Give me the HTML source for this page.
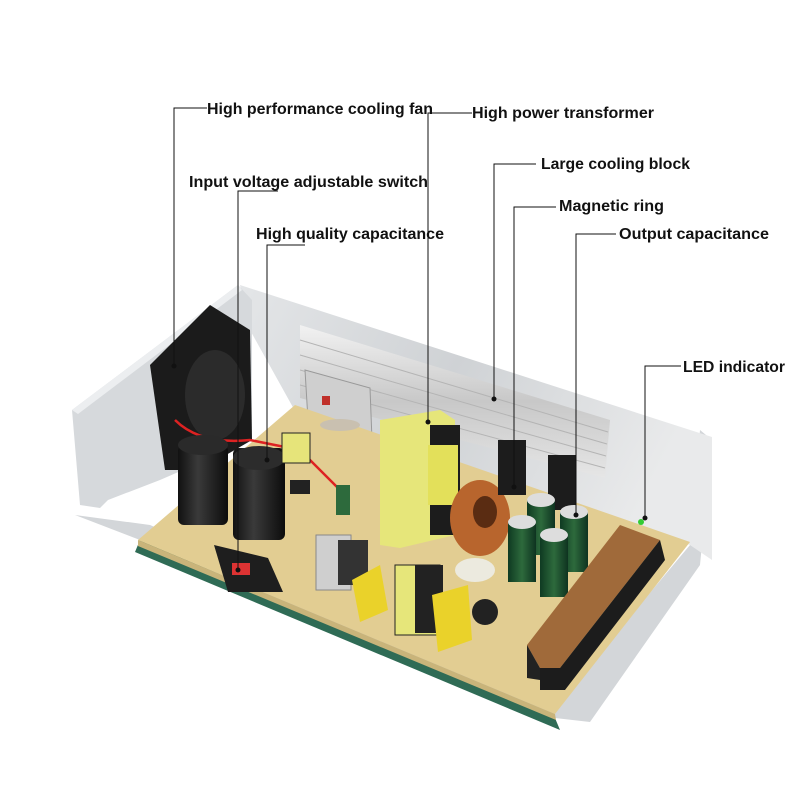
<!DOCTYPE html>
<html><head><meta charset="utf-8"><style>
html,body{margin:0;padding:0;background:#fff;}
svg{display:block}
text{font-family:"Liberation Sans",sans-serif;font-weight:bold;font-size:16px;fill:#111}
</style></head><body>
<svg width="800" height="800" viewBox="0 0 800 800" xmlns="http://www.w3.org/2000/svg">
<defs>
<linearGradient id="back" x1="0" y1="0" x2="1" y2="0.3">
<stop offset="0" stop-color="#e4e6e8"/><stop offset="0.5" stop-color="#cfd2d5"/><stop offset="1" stop-color="#e9eaeb"/></linearGradient>
<linearGradient id="fins" x1="0" y1="0" x2="0" y2="1">
<stop offset="0" stop-color="#f2f2f2"/><stop offset="0.5" stop-color="#c8c8c8"/><stop offset="1" stop-color="#e6e6e6"/></linearGradient>
<linearGradient id="cap" x1="0" y1="0" x2="1" y2="0">
<stop offset="0" stop-color="#111"/><stop offset="0.4" stop-color="#3a3a3a"/><stop offset="1" stop-color="#0c0c0c"/></linearGradient>
<linearGradient id="gcap" x1="0" y1="0" x2="1" y2="0">
<stop offset="0" stop-color="#0f3a22"/><stop offset="0.5" stop-color="#2d6a3c"/><stop offset="1" stop-color="#0e3320"/></linearGradient>
</defs>
<polygon points="75,515 140,540 555,718 590,722 700,565 712,440 700,430 690,545 560,700 150,525" fill="#d3d6d9"/>
<polygon points="140,540 555,718 560,730 135,552" fill="#2f6b55"/>
<polygon points="240,285 712,437 712,560 690,545 300,420 250,330" fill="url(#back)"/>
<polygon points="72,410 238,285 252,300 252,440 160,480 108,500 100,508 80,505" fill="#d6d9dc"/>
<polygon points="72,410 238,285 242,290 78,414" fill="#eceef0"/>
<polygon points="300,325 610,420 605,478 300,398" fill="url(#fins)"/>
<g stroke="#b4b4b4" stroke-width="1">
<line x1="300" y1="340" x2="608" y2="432"/><line x1="300" y1="355" x2="607" y2="444"/>
<line x1="300" y1="370" x2="606" y2="456"/><line x1="300" y1="385" x2="605" y2="468"/></g>
<polygon points="305,370 370,388 372,440 308,420" fill="#cfcfcf" stroke="#999"/>
<rect x="322" y="396" width="8" height="9" fill="#c0302a"/>
<polygon points="138,540 295,405 690,542 555,714" fill="#e2cd92"/>
<polygon points="138,540 555,714 556,720 138,546" fill="#c9b47a"/>
<polygon points="150,365 210,305 250,330 252,440 200,470 165,470" fill="#1b1b1b"/>
<ellipse cx="215" cy="395" rx="30" ry="45" fill="#2b2b2b"/>
<path d="M175 420 Q200 445 250 440 L300 450 L340 490" stroke="#d22" stroke-width="2.5" fill="none"/>
<rect x="178" y="445" width="50" height="80" rx="6" fill="url(#cap)"/>
<ellipse cx="203" cy="445" rx="25" ry="10" fill="#2a2a2a"/>
<rect x="233" y="448" width="52" height="92" rx="6" fill="url(#cap)"/>
<ellipse cx="259" cy="458" rx="26" ry="12" fill="#2c2c2c"/>
<polygon points="214,545 268,558 283,592 228,592" fill="#1e1e1e"/>
<rect x="232" y="563" width="18" height="12" fill="#d33"/>
<rect x="282" y="433" width="28" height="30" fill="#e6e47a" stroke="#222"/>
<rect x="290" y="480" width="20" height="14" fill="#222"/>
<ellipse cx="340" cy="425" rx="20" ry="6" fill="#c9c0b0"/>
<rect x="336" y="485" width="14" height="30" fill="#2d6a3c"/>
<rect x="316" y="535" width="35" height="55" fill="#cfcfcf" stroke="#888"/>
<rect x="338" y="540" width="30" height="45" fill="#333"/>
<polygon points="380,420 440,410 455,420 455,535 400,548 380,545" fill="#e6e67a"/>
<rect x="430" y="425" width="30" height="110" fill="#1c1c1c"/>
<rect x="428" y="445" width="30" height="60" fill="#e3e05a"/>
<rect x="395" y="565" width="45" height="70" fill="#e6e67a" stroke="#222"/>
<rect x="415" y="565" width="28" height="68" fill="#222"/>
<polygon points="352,580 380,565 388,610 360,622" fill="#ead22a"/>
<polygon points="432,595 468,585 472,640 438,652" fill="#ead22a"/>
<circle cx="485" cy="612" r="13" fill="#222"/>
<ellipse cx="480" cy="518" rx="30" ry="38" fill="#b8652d"/>
<ellipse cx="485" cy="512" rx="12" ry="16" fill="#5a2c12"/>
<ellipse cx="475" cy="570" rx="20" ry="12" fill="#eceadf"/>
<rect x="498" y="440" width="28" height="55" fill="#1c1c1c"/>
<rect x="548" y="455" width="28" height="55" fill="#1c1c1c"/>
<rect x="527" y="500" width="28" height="55" fill="url(#gcap)"/><ellipse cx="541" cy="500" rx="14" ry="7" fill="#ddd"/>
<rect x="560" y="512" width="28" height="60" fill="url(#gcap)"/><ellipse cx="574" cy="512" rx="14" ry="7" fill="#ddd"/>
<rect x="508" y="522" width="28" height="60" fill="url(#gcap)"/><ellipse cx="522" cy="522" rx="14" ry="7" fill="#ddd"/>
<rect x="540" y="535" width="28" height="62" fill="url(#gcap)"/><ellipse cx="554" cy="535" rx="14" ry="7" fill="#ddd"/>
<polygon points="527,645 620,525 660,540 560,668 540,668" fill="#a06a3a"/>
<polygon points="527,645 540,668 540,680 527,678" fill="#222"/>
<polygon points="540,668 560,668 660,540 665,560 565,690 540,690" fill="#1c1c1c"/>
<circle cx="641" cy="522" r="3" fill="#3c3"/>
<g stroke="#111" stroke-width="1" fill="none">
<polyline points="207,108 174,108 174,366"/>
<polyline points="472,113 428,113 428,422"/>
<polyline points="536,164 494,164 494,399"/>
<polyline points="278,191 238,191 238,570"/>
<polyline points="305,245 267,245 267,460"/>
<polyline points="556,207 514,207 514,487"/>
<polyline points="616,234 576,234 576,515"/>
<polyline points="681,366 645,366 645,518"/>
</g>
<g fill="#111">
<circle cx="174" cy="366" r="2.5"/><circle cx="428" cy="422" r="2.5"/><circle cx="494" cy="399" r="2.5"/>
<circle cx="238" cy="570" r="2.5"/><circle cx="267" cy="460" r="2.5"/><circle cx="514" cy="487" r="2.5"/>
<circle cx="576" cy="515" r="2.5"/><circle cx="645" cy="518" r="2.5"/></g>
<text x="207" y="114" textLength="226" lengthAdjust="spacingAndGlyphs">High performance cooling fan</text>
<text x="472" y="118" textLength="182" lengthAdjust="spacingAndGlyphs">High power transformer</text>
<text x="541" y="169" textLength="149" lengthAdjust="spacingAndGlyphs">Large cooling block</text>
<text x="189" y="187" textLength="239" lengthAdjust="spacingAndGlyphs">Input voltage adjustable switch</text>
<text x="559" y="211" textLength="105" lengthAdjust="spacingAndGlyphs">Magnetic ring</text>
<text x="256" y="239" textLength="188" lengthAdjust="spacingAndGlyphs">High quality capacitance</text>
<text x="619" y="239" textLength="150" lengthAdjust="spacingAndGlyphs">Output capacitance</text>
<text x="683" y="372" textLength="102" lengthAdjust="spacingAndGlyphs">LED indicator</text>
</svg>
</body></html>
